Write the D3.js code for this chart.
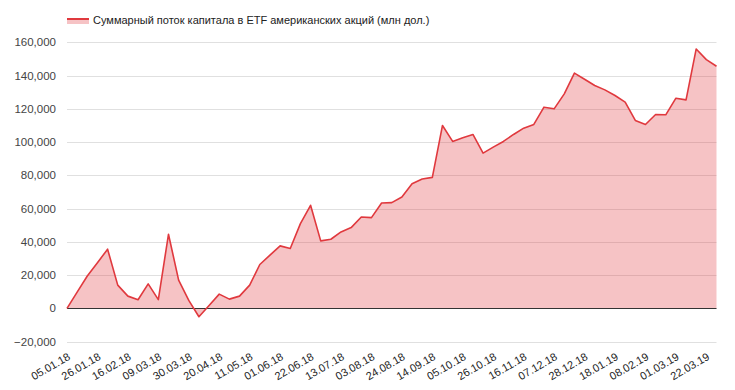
<!DOCTYPE html>
<html>
<head>
<meta charset="utf-8">
<script src="https://cdn.jsdelivr.net/npm/d3@7"></script>
<style>
  body { margin: 0; background: #fff; }
  text { font-family: Arial, "Liberation Sans", sans-serif; }
</style>
</head>
<body>
<svg id="chart"></svg>
<script>
// chart size
var width = 735,
    height = 390;

// series label
var seriesName = "Суммарный поток капитала в ETF американских акций (млн дол.)";

// weekly dates (every friday) 05.01.18 .. 29.03.19
var dates = ["05.01.18","12.01.18","19.01.18","26.01.18","02.02.18","09.02.18","16.02.18","23.02.18",
    "02.03.18","09.03.18","16.03.18","23.03.18","30.03.18","06.04.18","13.04.18","20.04.18",
    "27.04.18","04.05.18","11.05.18","18.05.18","25.05.18","01.06.18","08.06.18","15.06.18",
    "22.06.18","29.06.18","06.07.18","13.07.18","20.07.18","27.07.18","03.08.18","10.08.18",
    "17.08.18","24.08.18","31.08.18","07.09.18","14.09.18","21.09.18","28.09.18","05.10.18",
    "12.10.18","19.10.18","26.10.18","02.11.18","09.11.18","16.11.18","23.11.18","30.11.18",
    "07.12.18","14.12.18","21.12.18","28.12.18","04.01.19","11.01.19","18.01.19","25.01.19",
    "01.02.19","08.02.19","15.02.19","22.02.19","01.03.19","08.03.19","15.03.19","22.03.19",
    "29.03.19"];

// cumulative flow, mln usd
var flows = [0, 9800, 19500, 27500, 35600, 14000, 7400, 5200,
    14800, 5300, 44600, 17000, 4800, -5000, 1800, 8600,
    5600, 7400, 14000, 26400, 32000, 37600, 36000, 51000,
    62000, 40600, 41600, 46000, 48600, 55000, 54600, 63400,
    63600, 67000, 75000, 77800, 78800, 110000, 100400, 102600,
    104600, 93400, 97000, 100400, 104600, 108400, 110600, 121000,
    120000, 129000, 141500, 137800, 134000, 131400, 128000, 124000,
    113000, 110600, 116600, 116400, 126400, 125400, 156000, 149600,
    145600];

// y ticks
var yTicks = [-20000, 0, 20000, 40000, 60000, 80000, 100000, 120000, 140000, 160000];

var data = dates.map(function (d, i) { return { date: d, value: flows[i] }; });

var lineColor = "#e0393e";

var svg = d3.select("#chart")
    .attr("width", width)
    .attr("height", height);

// scales
var x = d3.scalePoint()
    .domain(dates)
    .range([67, 716.5]);

var y = d3.scaleLinear()
    .domain([-20000, 160000])
    .range([341.7, 42.3]);

// gridlines
svg.append("g")
    .selectAll("line")
    .data(yTicks.filter(function (d) { return d !== 0; }))
    .enter().append("line")
    .attr("x1", 67).attr("x2", 716.5)
    .attr("y1", function (d) { return Math.round(y(d)) + 0.5; })
    .attr("y2", function (d) { return Math.round(y(d)) + 0.5; })
    .attr("stroke", "#e0e0e0")
    .attr("stroke-width", 1);

// y labels
var fmt = d3.format(",");
svg.append("g")
    .selectAll("text")
    .data(yTicks)
    .enter().append("text")
    .attr("x", 56)
    .attr("y", function (d) { return y(d) + 4; })
    .attr("text-anchor", "end")
    .attr("font-size", 11.5)
    .attr("fill", "#444")
    .text(function (d) { return fmt(d); });

// area
var area = d3.area()
    .x(function (d) { return x(d.date); })
    .y0(y(0))
    .y1(function (d) { return y(d.value); });

svg.append("path")
    .datum(data)
    .attr("d", area)
    .attr("fill", lineColor)
    .attr("fill-opacity", 0.3);

// baseline
svg.append("line")
    .attr("x1", 67).attr("x2", 716.5)
    .attr("y1", Math.round(y(0)) + 0.5)
    .attr("y2", Math.round(y(0)) + 0.5)
    .attr("stroke", "#333")
    .attr("stroke-width", 1);

// line
var line = d3.line()
    .x(function (d) { return x(d.date); })
    .y(function (d) { return y(d.value); });

svg.append("path")
    .datum(data)
    .attr("d", line)
    .attr("fill", "none")
    .attr("stroke", lineColor)
    .attr("stroke-width", 1.6)
    .attr("stroke-linejoin", "round");

// x labels, every third week
svg.append("g")
    .selectAll("text")
    .data(dates.filter(function (d, i) { return i % 3 === 0; }))
    .enter().append("text")
    .attr("transform", function (d) {
        return "translate(" + (x(d) + 4) + ",359) rotate(-30)";
    })
    .attr("text-anchor", "end")
    .attr("font-size", 11)
    .attr("fill", "#222")
    .text(function (d) { return d; });

// legend
var legend = svg.append("g")
    .attr("transform", "translate(67,15)");

legend.append("rect")
    .attr("x", 0).attr("y", 4)
    .attr("width", 22).attr("height", 5)
    .attr("fill", lineColor)
    .attr("fill-opacity", 0.3);

legend.append("line")
    .attr("x1", 0).attr("x2", 22)
    .attr("y1", 4).attr("y2", 4)
    .attr("stroke", lineColor)
    .attr("stroke-width", 2);

legend.append("text")
    .attr("x", 26)
    .attr("y", 8.5)
    .attr("font-size", 11)
    .attr("fill", "#222")
    .text(seriesName);
</script>
</body>
</html>
